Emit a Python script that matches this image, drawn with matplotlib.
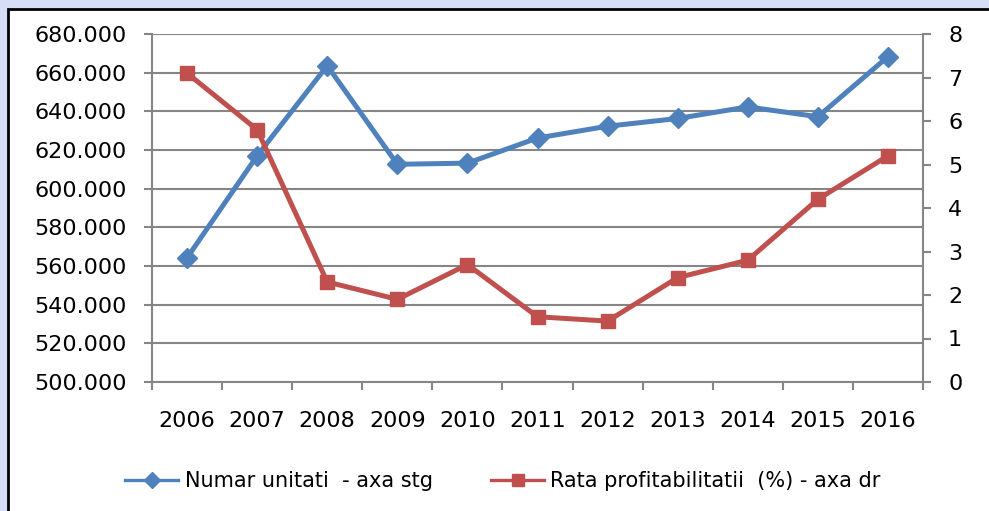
import matplotlib.pyplot as plt
from matplotlib.patches import Rectangle
from matplotlib.lines import Line2D
from matplotlib.ticker import FuncFormatter

# date
ani = ['2006', '2007', '2008', '2009', '2010', '2011', '2012', '2013', '2014', '2015', '2016']
numar_unitati = [564.2, 617.0, 663.6, 612.6, 613.2, 626.2, 632.3, 636.3, 642.3, 637.2, 668.3]  # mii
rata_profit = [7.1, 5.8, 2.3, 1.9, 2.7, 1.5, 1.4, 2.4, 2.8, 4.2, 5.2]

albastru = '#4F81BD'
rosu = '#C0504D'
gri = '#868686'

plt.rcParams['font.family'] = 'DejaVu Sans'

fig = plt.figure(figsize=(9.89, 5.11), dpi=100, facecolor='#D6DDF7')
W, H = 989, 511

# panou alb cu chenar negru
fig.patches.append(Rectangle((8 / W, -0.1), 1.1, (H - 9) / H + 0.1,
                             transform=fig.transFigure, facecolor='white',
                             edgecolor='black', linewidth=2, zorder=-10))

ax = fig.add_axes([152 / W, 1 - 382 / H, (923 - 152) / W, (382 - 34) / H])
ax.set_facecolor('none')
ax2 = ax.twinx()

x = list(range(len(ani)))
ax.plot(x, numar_unitati, color=albastru, lw=3.6, marker='D', ms=10.5,
        zorder=3, clip_on=False)
ax2.plot(x, rata_profit, color=rosu, lw=3.6, marker='s', ms=10.5,
         zorder=3, clip_on=False)

ax.set_xlim(-0.5, len(ani) - 0.5)
ax.set_ylim(500, 680)
ax.set_yticks(range(500, 681, 20))
ax.yaxis.set_major_formatter(FuncFormatter(lambda v, p: f'{int(v)}.000'))
ax2.set_ylim(0, 8)
ax2.set_yticks(range(0, 9))

ax.grid(axis='y', color=gri, lw=1.5)
ax.set_axisbelow(True)

ax.set_xticks(x)
ax.set_xticklabels(ani)
ax.set_xticks([i - 0.5 for i in range(len(ani) + 1)], minor=True)
ax.tick_params(axis='x', which='major', length=0, pad=21, labelsize=16)
ax.tick_params(axis='x', which='minor', length=6, width=1.5, color=gri)
ax.tick_params(axis='y', length=6, width=1.5, color=gri, pad=12, labelsize=16)
ax2.tick_params(axis='y', length=6, width=1.5, color=gri, pad=12, labelsize=16)

for a in (ax, ax2):
    a.spines['top'].set_visible(False)
    for s in ['left', 'right', 'bottom']:
        a.spines[s].set_color(gri)
        a.spines[s].set_linewidth(1.5)
ax.spines['right'].set_visible(False)
ax2.spines['left'].set_visible(False)
ax2.spines['bottom'].set_visible(False)

handles = [Line2D([], [], color=albastru, lw=2.4, marker='D', ms=8),
           Line2D([], [], color=rosu, lw=2.4, marker='s', ms=8.5)]
fig.legend(handles, ['Numar unitati  - axa stg', 'Rata profitabilitatii  (%) - axa dr'],
           loc='center', bbox_to_anchor=(503 / W, 1 - 481 / H), ncol=2,
           frameon=False, fontsize=15, handlelength=2.55, columnspacing=2.8,
           handletextpad=0.3)

fig.savefig('out.png', dpi=100, facecolor=fig.get_facecolor())
